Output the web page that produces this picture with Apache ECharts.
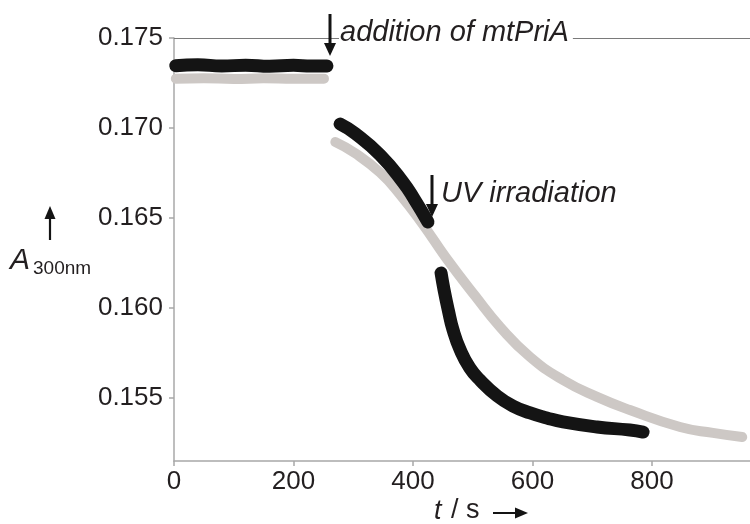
<!DOCTYPE html>
<html>
<head>
<meta charset="utf-8">
<script src="https://cdn.jsdelivr.net/npm/echarts@6/dist/echarts.min.js"></script>
<style>html,body{margin:0;padding:0;background:#fff;}#c{width:750px;height:524px;}</style>
</head>
<body>
<div id="c"></div>
<script>
// ---- data (t in s, A300nm) ----
const xTicks = [0, 200, 400, 600, 800];
const yTicks = [0.155, 0.160, 0.165, 0.170, 0.175];

const blackBefore = [[3,0.17346],[40,0.17352],[80,0.17344],[120,0.17349],[160,0.17343],[200,0.17348],[230,0.17344],[256,0.17345]];
const greyBefore  = [[3,0.17274],[50,0.17277],[100,0.17272],[150,0.17276],[200,0.17273],[251,0.17274]];

const blackAddition = [[278,0.17022],[303,0.16970],[345,0.16850],[383,0.16700],[403,0.16600],[425,0.16478]];
const blackUV = [[447,0.16194],[452,0.16100],[459,0.15989],[467,0.15878],[479,0.15767],[495,0.15667],[512,0.15600],[541,0.15511],[567,0.15456],[596,0.15417],[624,0.15389],[651,0.15367],[708,0.15339],[763,0.15322],[785,0.15311]];
const greyAfter = [[270,0.16922],[303,0.16860],[345,0.16752],[378,0.16632],[417,0.16462],[454,0.16285],[504,0.16067],[546,0.15894],[596,0.15728],[651,0.15600],[708,0.15506],[763,0.15433],[847,0.15339],[902,0.15306],[951,0.15283]];

const FONT = 'Liberation Sans, Arial, sans-serif';
const TXT = '#231f20';
const BLACK = '#141414';
const GREY = '#cdc8c5';

function seg(data, color, width) {
  return {
    type: 'line', data: data, smooth: 0.5, showSymbol: false, symbol: 'none',
    lineStyle: { color: color, width: width, cap: 'round', join: 'round' },
    xAxisIndex: 0, yAxisIndex: 0, silent: true, animation: false, z: color === BLACK ? 3 : 2
  };
}

const chart = echarts.init(document.getElementById('c'), null, { renderer: 'canvas' });
chart.setOption({
  animation: false,
  backgroundColor: '#fff',
  grid: { left: 174, right: 0, top: 38, bottom: 63, containLabel: false, outerBoundsMode: 'none' },
  xAxis: [{
    type: 'value', min: 0, max: 964, position: 'bottom',
    axisLine: { show: true, lineStyle: { color: '#a8a8a8', width: 1.5 } },
    axisTick: { show: true, inside: false, length: 5, customValues: xTicks, lineStyle: { color: '#a8a8a8', width: 1.5 } },
    axisLabel: { customValues: xTicks, fontSize: 26, color: TXT, fontFamily: FONT, margin: 8 },
    splitLine: { show: false }
  }, {
    type: 'value', min: 0, max: 964, position: 'top',
    axisLine: { show: true, onZero: false, lineStyle: { color: '#7a7a7a', width: 1.2 } },
    axisTick: { show: false }, axisLabel: { show: false }, splitLine: { show: false }
  }],
  yAxis: {
    type: 'value', min: 0.1515, max: 0.175,
    axisLine: { show: true, lineStyle: { color: '#a8a8a8', width: 1.5 } },
    axisTick: { show: true, inside: false, length: 5, customValues: yTicks, lineStyle: { color: '#a8a8a8', width: 1.5 } },
    axisLabel: { customValues: yTicks, formatter: v => v.toFixed(3), fontSize: 26, color: TXT, fontFamily: FONT, margin: 11 },
    splitLine: { show: false }
  },
  series: [
    seg(greyBefore, GREY, 10),
    seg(greyAfter, GREY, 10),
    seg(blackBefore, BLACK, 13),
    seg(blackAddition, BLACK, 13),
    seg(blackUV, BLACK, 13)
  ],
  graphic: [
    // addition arrow + label
    { type: 'line', shape: { x1: 330, y1: 14, x2: 330, y2: 46 }, style: { stroke: BLACK, lineWidth: 3 }, z: 10 },
    { type: 'polygon', shape: { points: [[324, 43], [336, 43], [330, 56]] }, style: { fill: BLACK }, z: 10 },
    { type: 'text', x: 339, y: 33, z: 10, style: { text: 'addition of mtPriA', fontStyle: 'italic', fontSize: 29, fontFamily: FONT, fill: TXT, verticalAlign: 'middle', backgroundColor: '#fff', padding: [2, 4, 2, 1] } },
    // UV arrow + label
    { type: 'line', shape: { x1: 432, y1: 175, x2: 432, y2: 207 }, style: { stroke: BLACK, lineWidth: 3 }, z: 10 },
    { type: 'polygon', shape: { points: [[426, 204], [438, 204], [432, 217]] }, style: { fill: BLACK }, z: 10 },
    { type: 'text', x: 441, y: 194, z: 10, style: { text: 'UV irradiation', fontStyle: 'italic', fontSize: 29, fontFamily: FONT, fill: TXT, verticalAlign: 'middle' } },
    // y-axis name
    { type: 'line', shape: { x1: 50, y1: 215, x2: 50, y2: 240 }, style: { stroke: BLACK, lineWidth: 2.2 }, z: 10 },
    { type: 'polygon', shape: { points: [[44.5, 219], [55.5, 219], [50, 206]] }, style: { fill: BLACK }, z: 10 },
    { type: 'text', x: 10, y: 261, z: 10, style: { text: 'A', fontStyle: 'italic', fontSize: 30, fontFamily: FONT, fill: TXT, verticalAlign: 'middle' } },
    { type: 'text', x: 33, y: 269, z: 10, style: { text: '300nm', fontSize: 19, fontFamily: FONT, fill: TXT, verticalAlign: 'middle' } },
    // x-axis name
    { type: 'text', x: 434, y: 511, z: 10, style: { text: 't', fontStyle: 'italic', fontSize: 27, fontFamily: FONT, fill: TXT, verticalAlign: 'middle' } },
    { type: 'text', x: 451, y: 511, z: 10, style: { text: '/ s', fontSize: 27, fontFamily: FONT, fill: TXT, verticalAlign: 'middle' } },
    { type: 'line', shape: { x1: 493, y1: 513, x2: 518, y2: 513 }, style: { stroke: BLACK, lineWidth: 2 }, z: 10 },
    { type: 'polygon', shape: { points: [[515, 507.5], [515, 518.5], [528, 513]] }, style: { fill: BLACK }, z: 10 }
  ]
});
</script>
</body>
</html>
